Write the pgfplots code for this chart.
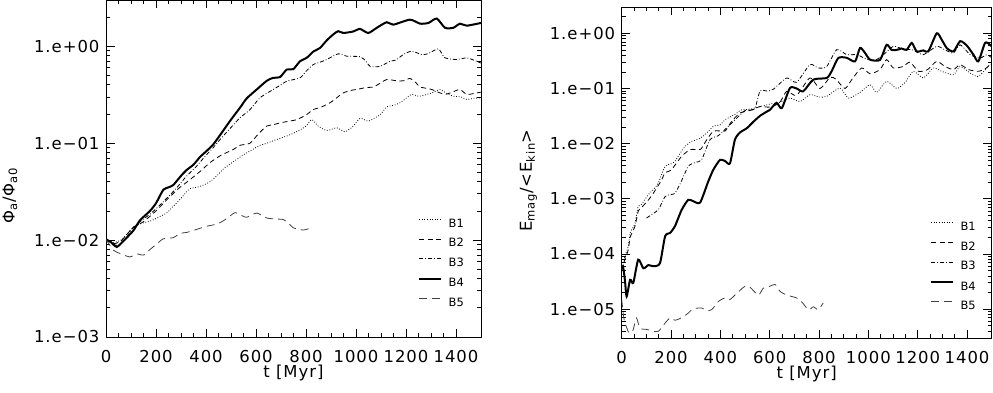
\documentclass[border=0pt]{standalone}
\usepackage{fontspec}
\setmainfont{DejaVu Sans}
\usepackage{pgfplots}
\pgfplotsset{compat=1.18}
\newcommand{\tfont}{\fontsize{16.5}{18}\selectfont\addfontfeatures{LetterSpace=6}}
\tikzset{
  b1/.style={black, line width=0.8bp, dash pattern=on 0.8bp off 1.8bp, smooth, tension=0.4},
  b2/.style={black, line width=0.8bp, dash pattern=on 5bp off 3.5bp, smooth, tension=0.4},
  b3/.style={black, line width=0.8bp, dash pattern=on 4bp off 2bp on 0.8bp off 2bp, smooth, tension=0.4},
  b4/.style={black, line width=2bp, smooth, tension=0.4},
  b5/.style={black!75, line width=0.8bp, dash pattern=on 8bp off 5bp, smooth, tension=0.4},
}
\pgfplotsset{
  every axis/.append style={
    scale only axis,
    xmin=0, xmax=1500,
    xtick={0,200,...,1400},
    xticklabels={0,200,400,600,800,1000,1200,1400},
    minor x tick num=3,
    tick align=inside,
    major tick length=8.5bp,
    minor tick length=4bp,
    axis line style={line width=0.9bp},
    tick style={black, line width=0.7bp},
    tick label style={font=\tfont},
    xticklabel style={yshift=-10bp},
    yticklabel style={xshift=-3bp},
    label style={font=\tfont},
    xlabel={t [Myr]},
    xlabel style={at={(axis description cs:0.5,0)}, anchor=north, inner sep=0pt, yshift=-28bp},
    legend style={draw=none, fill=none, font=\fontsize{11.5}{13}\selectfont, inner sep=0pt, row sep=11.2bp, column sep=6.5bp, nodes={inner sep=0pt, text height=8bp, text depth=0bp}, anchor=north west},
    legend cell align=left,
  },
}
\begin{document}
\begin{tikzpicture}
\path[use as bounding box] (0,0) rectangle (993bp,393bp);
% ---------------- left panel ----------------
\begin{axis}[
  ymode=log, ymax=3,
  at={(106bp,56bp)}, anchor=south west,
  width=375bp, height=337bp,
  ymin=1e-3,
  ytick={1e-3,1e-2,1e-1,1},
  yticklabels={1.e−03,1.e−02,1.e−01,1.e+00},
  minor ytick={2e-3,3e-3,4e-3,5e-3,6e-3,7e-3,8e-3,9e-3,2e-2,3e-2,4e-2,5e-2,6e-2,7e-2,8e-2,9e-2,2e-1,3e-1,4e-1,5e-1,6e-1,7e-1,8e-1,9e-1,2},
  ylabel={Φ\textsubscript{a}/Φ\textsubscript{a0}},
  ylabel style={at={(axis description cs:-0.256,0.42)}, anchor=center},
  legend style={at={(axis description cs:0.832,0.351)}},
  legend image code/.code={\draw[#1] (0bp,4bp) -- (22bp,4bp);},
]
\addplot[b1] coordinates {
(0,0.0102)(30,0.0095)(60,0.0100)(109,0.0135)(140,0.0148)(176,0.0157)(210,0.0172)(243,0.0191)(270,0.0225)(296,0.0263)(320,0.031)(336,0.034)(363,0.035)(390,0.037)(416,0.040)(443,0.046)(469,0.054)(500,0.062)(523,0.068)(550,0.076)(576,0.083)(616,0.095)(640,0.099)(669,0.106)(700,0.113)(736,0.122)(776,0.137)(800,0.150)(823,0.175)(849,0.150)(883,0.135)(923,0.144)(956,0.131)(989,0.150)(1016,0.180)(1049,0.169)(1080,0.185)(1100,0.200)(1123,0.237)(1150,0.245)(1176,0.261)(1200,0.290)(1223,0.318)(1250,0.305)(1283,0.318)(1310,0.335)(1336,0.358)(1360,0.330)(1389,0.305)(1420,0.300)(1443,0.282)(1470,0.290)(1500,0.294)};
\addlegendentry{B1}
\addplot[b2] coordinates {
(0,0.0102)(30,0.0092)(60,0.0098)(109,0.0135)(150,0.0155)(200,0.020)(243,0.026)(290,0.034)(336,0.042)(380,0.052)(416,0.063)(460,0.075)(509,0.086)(536,0.095)(576,0.100)(610,0.125)(643,0.150)(670,0.155)(696,0.162)(730,0.168)(763,0.175)(800,0.195)(829,0.222)(860,0.235)(896,0.261)(920,0.29)(949,0.330)(980,0.350)(1016,0.364)(1040,0.375)(1069,0.38)(1100,0.42)(1123,0.454)(1163,0.440)(1190,0.440)(1216,0.465)(1240,0.42)(1256,0.380)(1300,0.360)(1336,0.330)(1360,0.320)(1390,0.340)(1416,0.358)(1443,0.318)(1470,0.325)(1500,0.336)};
\addlegendentry{B2}
\addplot[b3] coordinates {
(0,0.0102)(43,0.0088)(80,0.0105)(109,0.0135)(140,0.0158)(176,0.0185)(210,0.0222)(243,0.027)(280,0.034)(320,0.045)(360,0.057)(400,0.075)(429,0.090)(460,0.112)(500,0.145)(536,0.183)(576,0.222)(616,0.294)(669,0.358)(700,0.40)(723,0.436)(776,0.472)(800,0.55)(829,0.647)(860,0.69)(883,0.73)(929,0.835)(963,0.79)(1016,0.78)(1040,0.70)(1056,0.62)(1096,0.62)(1136,0.70)(1160,0.72)(1189,0.82)(1223,0.89)(1263,0.82)(1290,0.84)(1329,0.94)(1356,0.76)(1403,0.73)(1443,0.76)(1470,0.72)(1500,0.67)};
\addlegendentry{B3}
\addplot[b4] coordinates {
(0,0.0102)(20,0.0095)(43,0.0085)(70,0.0098)(109,0.0125)(136,0.016)(176,0.020)(200,0.024)(229,0.033)(250,0.035)(269,0.037)(300,0.046)(323,0.053)(350,0.060)(376,0.072)(400,0.082)(429,0.097)(460,0.125)(500,0.175)(536,0.232)(563,0.29)(603,0.358)(643,0.44)(669,0.472)(696,0.48)(723,0.575)(749,0.58)(776,0.70)(803,0.76)(829,0.88)(856,0.96)(883,1.15)(910,1.33)(929,1.43)(949,1.37)(989,1.42)(1016,1.51)(1049,1.37)(1083,1.55)(1123,1.77)(1149,1.67)(1216,1.88)(1256,1.71)(1290,1.74)(1323,1.93)(1356,1.55)(1389,1.55)(1416,1.71)(1443,1.63)(1500,1.74)};
\addlegendentry{B4}
\addplot[b5] coordinates {
(0,0.0102)(29,0.0079)(60,0.0072)(96,0.0067)(123,0.0072)(150,0.0070)(176,0.0080)(203,0.0091)(229,0.0103)(269,0.0106)(296,0.0117)(323,0.0120)(363,0.0129)(403,0.0139)(443,0.0146)(469,0.0158)(496,0.0177)(516,0.0192)(545,0.0178)(563,0.0172)(603,0.0190)(643,0.0169)(680,0.0165)(709,0.0163)(730,0.0150)(749,0.0134)(789,0.0127)(823,0.0134)};
\addlegendentry{B5}
\end{axis}
% ---------------- right panel ----------------
\begin{axis}[
  ymode=log, ymax=3,
  at={(621.7bp,55bp)}, anchor=south west,
  width=370bp, height=331bp,
  ymin=3e-6,
  ytick={1e-5,1e-4,1e-3,1e-2,1e-1,1},
  yticklabels={1.e−05,1.e−04,1.e−03,1.e−02,1.e−01,1.e+00},
  minor ytick={3e-6,4e-6,5e-6,6e-6,7e-6,8e-6,9e-6,2e-5,3e-5,4e-5,5e-5,6e-5,7e-5,8e-5,9e-5,2e-4,3e-4,4e-4,5e-4,6e-4,7e-4,8e-4,9e-4,2e-3,3e-3,4e-3,5e-3,6e-3,7e-3,8e-3,9e-3,2e-2,3e-2,4e-2,5e-2,6e-2,7e-2,8e-2,9e-2,2e-1,3e-1,4e-1,5e-1,6e-1,7e-1,8e-1,9e-1,2},
  ylabel={E\textsubscript{mag}/<E\textsubscript{kin}>},
  ylabel style={at={(axis description cs:-0.252,0.476)}, anchor=center},
  legend style={at={(axis description cs:0.833,0.350)}},
  legend image code/.code={\draw[#1] (0bp,4bp) -- (22bp,4bp);},
]
\addplot[b1] coordinates {
(0,5.0e-5)(13,9.0e-5)(27,1.4e-4)(34,2.4e-4)(54,3.6e-4)(67,7.3e-4)(81,8.0e-4)(108,1.19e-3)(130,1.5e-3)(148,1.93e-3)(176,3.9e-3)(200,4.3e-3)(216,4.8e-3)(240,7.0e-3)(257,8.9e-3)(284,1.1e-2)(310,1.2e-2)(338,1.46e-2)(371,2.06e-2)(400,2.2e-2)(419,2.72e-2)(459,3.4e-2)(486,4.1e-2)(520,4.2e-2)(561,4.7e-2)(600,5.2e-2)(640,5.6e-2)(682,6.7e-2)(723,5.8e-2)(763,7.7e-2)(800,7.0e-2)(831,7.2e-2)(885,1.02e-1)(919,6.7e-2)(966,8.5e-2)(1007,1.17e-1)(1034,8.5e-2)(1074,1.35e-1)(1115,1.0e-1)(1150,1.3e-1)(1182,2.05e-1)(1223,1.55e-1)(1263,2.36e-1)(1297,2.05e-1)(1345,1.78e-1)(1372,2.5e-1)(1413,1.9e-1)(1446,1.66e-1)(1493,2.7e-1)(1500,2.6e-1)};
\addlegendentry{B1}
\addplot[b2] coordinates {
(0,5.0e-5)(13,8.0e-5)(27,1.2e-4)(34,2.0e-4)(54,3.2e-4)(67,6.0e-4)(81,7.0e-4)(108,9.5e-4)(130,1.3e-3)(162,2.2e-3)(176,3.0e-3)(200,3.3e-3)(243,5.9e-3)(277,7.8e-3)(300,7.8e-3)(320,7.9e-3)(345,1.18e-2)(371,1.67e-2)(400,1.7e-2)(420,1.7e-2)(446,2.54e-2)(480,3.6e-2)(520,4.0e-2)(561,4.7e-2)(600,4.6e-2)(640,5.5e-2)(669,8.9e-2)(709,7.5e-2)(763,1.55e-1)(804,1.0e-1)(845,1.6e-1)(870,1.45e-1)(905,1.0e-1)(935,1.5e-1)(973,2.36e-1)(1007,1.85e-1)(1047,2.2e-1)(1074,3.33e-1)(1101,2.36e-1)(1140,2.5e-1)(1169,3.0e-1)(1203,2.05e-1)(1240,2.2e-1)(1277,3.1e-1)(1311,2.5e-1)(1345,2.2e-1)(1372,2.7e-1)(1406,2.2e-1)(1446,2.05e-1)(1475,2.3e-1)(1500,2.9e-1)};
\addlegendentry{B2}
\addplot[b3] coordinates {
(101,4.5e-4)(130,5.5e-4)(150,6.5e-4)(176,1.1e-3)(200,1.2e-3)(216,1.26e-3)(240,2.0e-3)(270,3.9e-3)(300,4.6e-3)(324,5.1e-3)(358,1.18e-2)(392,1.4e-2)(432,2.06e-2)(473,3.1e-2)(500,4.0e-2)(520,4.1e-2)(540,4.3e-2)(561,9.0e-2)(590,9.0e-2)(615,9.7e-2)(669,1.55e-1)(709,1.3e-1)(763,2.7e-1)(797,2.35e-1)(831,2.5e-1)(872,5.06e-1)(912,4.1e-1)(953,4.1e-1)(993,3.4e-1)(1030,3.3e-1)(1061,4.1e-1)(1101,5.8e-1)(1140,5.2e-1)(1180,5.0e-1)(1223,4.1e-1)(1277,5.8e-1)(1311,5.0e-1)(1345,4.4e-1)(1372,6.2e-1)(1413,4.1e-1)(1453,3.57e-1)(1480,4.1e-1)(1500,3.6e-1)};
\addlegendentry{B3}
\addplot[b4] coordinates {
(0,5.5e-5)(5,6.0e-5)(13,3.4e-5)(20,1.7e-5)(34,3.4e-5)(47,3.0e-5)(67,7.9e-5)(88,5.5e-5)(108,6.3e-5)(128,6.0e-5)(155,6.8e-5)(176,2.1e-4)(196,2.4e-4)(216,3.2e-4)(243,6.3e-4)(270,9.6e-4)(291,9.0e-4)(318,8.6e-4)(351,2.07e-3)(372,3.4e-3)(399,5.1e-3)(420,4.8e-3)(439,4.4e-3)(459,1.18e-2)(480,1.6e-2)(507,1.9e-2)(534,2.5e-2)(561,3.2e-2)(588,3.8e-2)(601,4.1e-2)(628,5.5e-2)(649,4.4e-2)(682,1.02e-1)(709,1.0e-1)(736,8.9e-2)(777,1.45e-1)(831,1.55e-1)(851,2.05e-1)(878,3.57e-1)(912,3.6e-1)(946,3.1e-1)(966,5.43e-1)(985,4.5e-1)(1007,3.33e-1)(1047,3.3e-1)(1074,6.2e-1)(1094,5.0e-1)(1115,5.0e-1)(1135,5.3e-1)(1155,5.0e-1)(1176,6.7e-1)(1196,4.7e-1)(1223,4.9e-1)(1243,4.7e-1)(1277,1.0)(1297,7.7e-1)(1318,5.4e-1)(1345,4.7e-1)(1372,7.2e-1)(1399,6.0e-1)(1426,4.1e-1)(1446,3.1e-1)(1473,6.7e-1)(1493,6.2e-1)(1500,5.8e-1)};
\addlegendentry{B4}
\addplot[b5] coordinates {
(0,1.5e-5)(10,6.4e-6)(27,3.9e-6)(40,3.7e-6)(47,4.3e-6)(60,6.9e-6)(74,4.5e-6)(101,4.3e-6)(135,3.9e-6)(150,4.0e-6)(176,5.6e-6)(196,6.9e-6)(216,6.3e-6)(243,7.0e-6)(270,8.5e-6)(284,9.8e-6)(304,1.04e-5)(324,1.05e-5)(345,9.5e-6)(365,9.8e-6)(392,1.38e-5)(419,1.6e-5)(439,1.5e-5)(459,1.8e-5)(480,2.2e-5)(500,2.6e-5)(520,2.5e-5)(554,1.8e-5)(574,2.4e-5)(601,2.6e-5)(622,2.8e-5)(642,2.1e-5)(669,1.8e-5)(709,1.6e-5)(730,1.35e-5)(757,9.8e-6)(777,1.1e-5)(797,9.8e-6)(817,1.3e-5)};
\addlegendentry{B5}
\end{axis}
\end{tikzpicture}
\end{document}
